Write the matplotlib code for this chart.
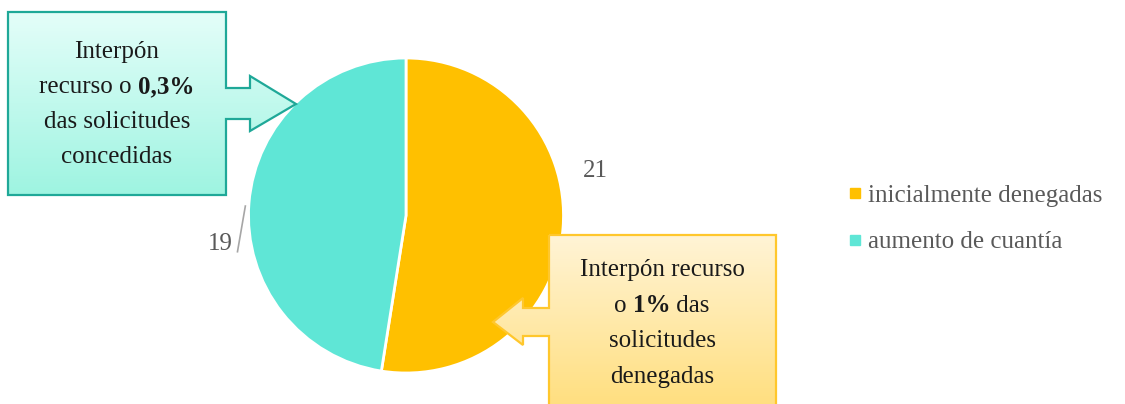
import numpy as np
import matplotlib
matplotlib.use("Agg")
import matplotlib.pyplot as plt
from matplotlib.patches import Polygon
from matplotlib.lines import Line2D
from matplotlib.colors import LinearSegmentedColormap

# ---- data ----
categories = ["inicialmente denegadas", "aumento de cuantía"]
values = [21, 19]
colors = ["#FFC000", "#5FE6D6"]
value_labels = ["21", "19"]
callout_conc = [[("Interpón", False)],
                [("recurso o ", False), ("0,3%", True)],
                [("das solicitudes", False)],
                [("concedidas", False)]]
callout_den = [[("Interpón recurso", False)],
               [("o ", False), ("1%", True), (" das", False)],
               [("solicitudes", False)],
               [("denegadas", False)]]

FONT = "Liberation Serif"
W, H = 1125, 404
fig = plt.figure(figsize=(W / 100, H / 100), dpi=100)
fig.patch.set_facecolor("white")

# pie axes
cx, cy, r = 406, 215.5, 157.5
pax = fig.add_axes([(cx - r) / W, (H - cy - r) / H, 2 * r / W, 2 * r / H])
wedges, _ = pax.pie(values, colors=colors, startangle=90, counterclock=False,
                    radius=1, wedgeprops=dict(edgecolor="white", linewidth=2))
pax.set_xlim(-1, 1)
pax.set_ylim(-1, 1)
pax.set_aspect("auto")
pax.axis("off")

# value labels
pax.text(1.2, 0.285, value_labels[0], fontsize=18, family=FONT, color="#595959",
         ha="center", va="center")
pax.text(-1.18, -0.18, value_labels[1], fontsize=18, family=FONT, color="#595959",
         ha="center", va="center")
pax.plot([-1.07, -1.02], [-0.23, 0.06], color="#A6A6A6", lw=1.2, clip_on=False)

# overlay axes in pixel coords
ov = fig.add_axes([0, 0, 1, 1])
ov.set_xlim(0, W)
ov.set_ylim(H, 0)
ov.axis("off")
ov.patch.set_alpha(0)


def gradient_shape(pts, c_top, c_bot, edge, y0, y1):
    poly = Polygon(pts, closed=True, facecolor="none", edgecolor=edge, lw=1.6, zorder=3)
    ov.add_patch(poly)
    cmap = LinearSegmentedColormap.from_list("g", [c_top, c_bot])
    grad = np.linspace(0, 1, 256).reshape(-1, 1)
    xs = [p[0] for p in pts]
    im = ov.imshow(grad, cmap=cmap, aspect="auto",
                   extent=[min(xs), max(xs), y1, y0], zorder=2)
    im.set_clip_path(poly)


gradient_shape([(8, 12), (226, 12), (226, 88), (250, 88), (250, 76), (296, 104),
                (250, 131), (250, 119), (226, 119), (226, 195), (8, 195)],
               "#E4FEF9", "#9EF4E1", "#1FA898", 12, 195)
gradient_shape([(549, 235), (776, 235), (776, 412), (549, 412), (549, 336),
                (523, 336), (523, 345), (493, 322), (523, 298), (523, 308),
                (549, 308)],
               "#FFF4D6", "#FFDF80", "#FFC72C", 235, 404)
ov.set_xlim(0, W)
ov.set_ylim(H, 0)

renderer = fig.canvas.get_renderer()


def rich_line(x, y, segs, size=18):
    objs = []
    widths = []
    for s, b in segs:
        t = ov.text(0, y, s, fontsize=size, family=FONT,
                    fontweight="bold" if b else "normal", color="#1A1A1A",
                    ha="left", va="center", zorder=5)
        objs.append(t)
        bb = t.get_window_extent(renderer=renderer)
        widths.append(bb.width)
    total = sum(widths)
    start = x - total / 2
    for t, w in zip(objs, widths):
        t.set_x(start)
        start += w


for i, segs in enumerate(callout_conc):
    rich_line(117, 52 + i * 35, segs)
for i, segs in enumerate(callout_den):
    rich_line(662, 270 + i * 35.5, segs)

# legend
handles = [Line2D([], [], marker="s", linestyle="none", markersize=7,
                  markerfacecolor=c, markeredgecolor=c) for c in colors]
leg = fig.legend(handles, categories, loc="upper left",
                 bbox_to_anchor=(826 / W, 1 - 162 / H), frameon=False,
                 prop=dict(family=FONT, size=18), handlelength=0.5,
                 handletextpad=0.3, labelspacing=0.95)
for t in leg.get_texts():
    t.set_color("#595959")

fig.savefig("out.png", dpi=100, facecolor="white")
